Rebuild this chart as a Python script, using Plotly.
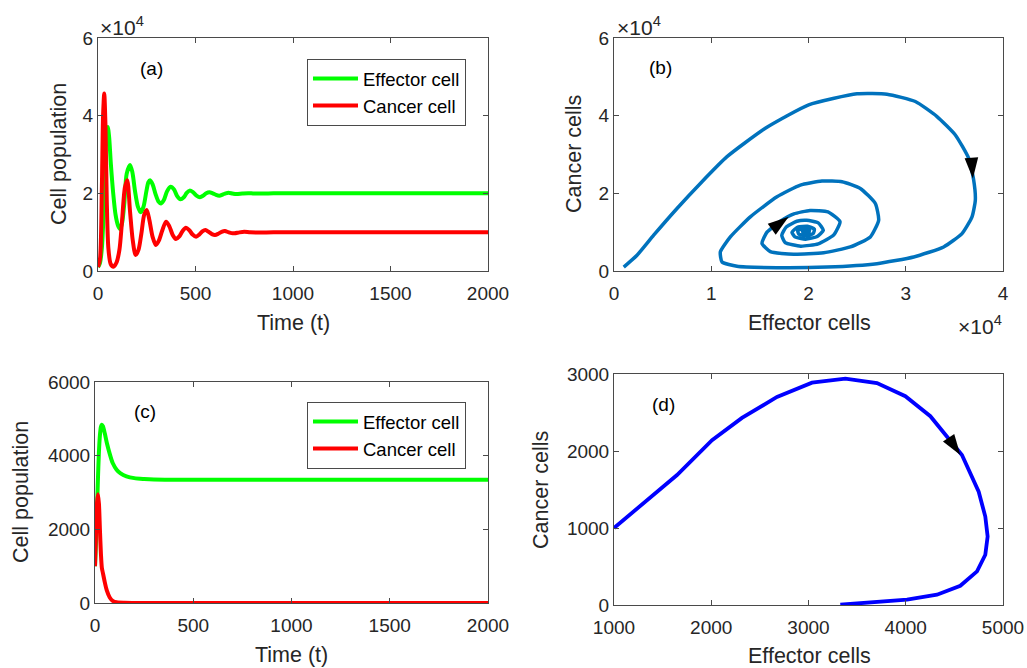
import plotly.graph_objects as go

W, H = 1027, 668
FONT = "Liberation Sans, Arial, Helvetica, sans-serif"
TXT = "#262626"
AXC = "#4a4a4a"

# ---- (a) oscillatory case: time series ----
t_a_eff = [0, 10, 20, 27, 32, 38, 44, 50, 57, 66, 78, 90, 102, 113, 124, 135, 147, 164, 176, 190, 205, 219,
           233, 248, 258, 267, 280, 295, 310, 323, 337, 354, 372, 390, 406, 423, 440, 455, 470, 487, 505,
           523, 540, 555, 571, 588, 605, 622, 640, 655, 669, 690, 710, 740, 770, 800, 850, 900, 1000, 1500, 2000]
eff_a = [1000, 2000, 6000, 13000, 22000, 31000, 35500, 37100, 34500, 27500, 20000, 14500, 11800, 10800, 12500,
         17500, 25000, 27300, 25500, 20500, 16500, 15100, 16500, 20500, 22800, 23400, 22300, 19800, 17900,
         17400, 18200, 20500, 21700, 21000, 19300, 18460, 19000, 20100, 20700, 20300, 19400, 19000, 19400,
         20000, 20260, 20000, 19600, 19400, 19700, 20000, 20150, 19950, 19800, 19950, 20050, 19950, 19950,
         20000, 20000, 20000, 20000]

t_a_can = [0, 10, 20, 26, 32, 38, 45, 53, 65, 79, 95, 110, 122, 138, 150, 164, 178, 193, 208, 222, 237, 250,
           264, 280, 297, 312, 330, 349, 366, 383, 400, 417, 434, 451, 468, 485, 503, 520, 535, 551, 567,
           584, 600, 617, 634, 651, 668, 685, 700, 725, 750, 780, 820, 900, 1000, 1500, 2000]
can_a = [1000, 3000, 22000, 40000, 45700, 38000, 18000, 6000, 1800, 1100, 2200, 5500, 12000, 21500, 23400,
         15500, 8000, 4100, 5500, 9500, 14500, 15700, 13000, 8800, 6700, 7800, 10500, 12700, 11500, 9300,
         8240, 8900, 10300, 11150, 10500, 9400, 8830, 9400, 10200, 10560, 10100, 9500, 9270, 9600, 10100,
         10300, 10000, 9750, 9700, 9950, 10100, 9950, 9900, 9980, 10000, 10000, 10000]

# ---- (b) oscillatory case: phase portrait ----
eff_b = [1000, 2365, 4079, 6478, 8877, 11620, 15560, 20017, 24987, 28072, 30986, 33213, 35099, 36470, 36984,
         37155, 36813, 35785, 33899, 30814, 27044, 21902, 16761, 12648, 11106, 10935, 11963, 14019, 16761,
         19160, 21388, 23445, 25330, 26872, 27215, 26358, 24302, 21559, 18474, 16075, 15218, 15732, 17103,
         18500, 20154, 22000, 23239, 22600, 21000, 19200, 17600, 17250, 17700, 18800, 19811, 21000, 21524,
         20900, 19700, 18600, 18300, 18900, 19900, 20600, 20500, 19800, 19000, 18900, 19500, 20100, 20000,
         19500, 19400, 19800, 19800]
can_b = [1000, 4046, 9211, 16097, 22553, 29440, 36757, 42783, 45624, 45538, 43644, 39770, 35036, 29010, 23414,
         18250, 13945, 9641, 6198, 3616, 1894, 1033, 861, 1205, 2324, 4907, 8780, 13945, 19110, 22123, 23156,
         22984, 21262, 17389, 13085, 8780, 6198, 4700, 4300, 5000, 7100, 10000, 12800, 14700, 15600, 15200,
         12695, 9300, 7000, 6400, 7300, 9200, 11300, 12800, 13050, 12400, 10500, 8900, 8200, 8800, 10000,
         11300, 11500, 10800, 9700, 9100, 9500, 10400, 10900, 10500, 9800, 9700, 10200, 10300, 9900]
# direction markers on the trajectory (tip position, heading in degrees)
arrow_b_eff = [36900, 17961]
arrow_b_can = [23800, 13945]
arrow_b_ang = [176, 54]

# ---- (c) stable case: time series ----
t_c_eff = [0, 5, 10, 15, 20, 25, 30, 35, 40, 50, 60, 75, 90, 110, 130, 160, 200, 250, 300, 400, 1000, 2000]
eff_c = [1000, 1650, 2500, 3380, 4100, 4550, 4780, 4840, 4800, 4600, 4350, 4050, 3800, 3620, 3520, 3440,
         3390, 3365, 3350, 3345, 3345, 3345]
t_c_can = [0, 5, 10, 15, 20, 25, 30, 35, 40, 50, 60, 75, 90, 110, 150, 200, 1000, 2000]
can_c = [1000, 1900, 2700, 2950, 2700, 2000, 1350, 950, 820, 560, 340, 150, 60, 20, 5, 2, 0, 0]

# ---- (d) stable case: phase portrait ----
eff_d = [1000, 1305, 1648, 2008, 2316, 2676, 3036, 3379, 3704, 3996, 4253, 4578, 4750, 4818, 4842, 4818,
         4733, 4561, 4321, 4013, 3636, 3327]
can_d = [1000, 1321, 1688, 2141, 2430, 2702, 2888, 2940, 2883, 2711, 2452, 1947, 1472, 1148, 889, 652,
         436, 250, 134, 69, 35, 4]
arrow_d_eff = [4561]
arrow_d_can = [1947]
arrow_d_ang = [146]

# tick values / labels
t_ticks = [0, 500, 1000, 1500, 2000]
t_ticktext = ["0", "500", "1000", "1500", "2000"]
e4_ticks_y = [0, 20000, 40000, 60000]
e4_text_y = ["0", "2", "4", "6"]
e4_ticks_x = [0, 10000, 20000, 30000, 40000]
e4_text_x = ["0", "1", "2", "3", "4"]
c_ticks_y = [0, 2000, 4000, 6000]
d_ticks_x = [1000, 2000, 3000, 4000, 5000]
d_ticks_y = [0, 1000, 2000, 3000]

GREEN, RED = "#00ff00", "#ff0000"
BLUE_B, BLUE_D = "#0072bd", "#0000ff"


def px(x):
    return x / W


def py(y):
    return 1 - y / H


fig = go.Figure()

# (a)
fig.add_trace(go.Scatter(x=t_a_eff, y=eff_a, mode="lines", name="Effector cell",
                         line=dict(color=GREEN, width=4, shape="spline", smoothing=0.8),
                         xaxis="x", yaxis="y", legend="legend"))
fig.add_trace(go.Scatter(x=t_a_can, y=can_a, mode="lines", name="Cancer cell",
                         line=dict(color=RED, width=4, shape="spline", smoothing=0.8),
                         xaxis="x", yaxis="y", legend="legend"))
# (b)
fig.add_trace(go.Scatter(x=eff_b, y=can_b, mode="lines", showlegend=False,
                         line=dict(color=BLUE_B, width=3.5, shape="spline", smoothing=0.5),
                         xaxis="x2", yaxis="y2"))
fig.add_trace(go.Scatter(x=arrow_b_eff, y=arrow_b_can, mode="markers", showlegend=False,
                         marker=dict(symbol="arrow", size=22, angle=arrow_b_ang, color="black",
                                     line=dict(width=0)),
                         xaxis="x2", yaxis="y2"))
# (c)
fig.add_trace(go.Scatter(x=t_c_eff, y=eff_c, mode="lines", name="Effector cell",
                         line=dict(color=GREEN, width=4, shape="spline", smoothing=0.8),
                         xaxis="x3", yaxis="y3", legend="legend2"))
fig.add_trace(go.Scatter(x=t_c_can, y=can_c, mode="lines", name="Cancer cell",
                         line=dict(color=RED, width=4, shape="spline", smoothing=0.8),
                         xaxis="x3", yaxis="y3", legend="legend2"))
# (d)
fig.add_trace(go.Scatter(x=eff_d, y=can_d, mode="lines", showlegend=False,
                         line=dict(color=BLUE_D, width=3.8), xaxis="x4", yaxis="y4"))
fig.add_trace(go.Scatter(x=arrow_d_eff, y=arrow_d_can, mode="markers", showlegend=False,
                         marker=dict(symbol="arrow", size=22, angle=arrow_d_ang, color="black",
                                     line=dict(width=0)),
                         xaxis="x4", yaxis="y4"))


def axis(domain, rng, vals, text, anchor, standoff=0):
    return dict(domain=domain, range=rng, tickvals=vals, ticktext=text, anchor=anchor,
                showline=True, linecolor=AXC, linewidth=1, mirror="ticks",
                ticks="inside", ticklen=5, tickcolor=AXC, tickwidth=1,
                showgrid=False, zeroline=False, fixedrange=True, automargin=False,
                ticklabelstandoff=standoff,
                tickfont=dict(family=FONT, size=19, color=TXT))


xa_dom = [px(98), px(488)]
xb_dom = [px(614), px(1003)]
xc_dom = [px(95), px(488)]
ya_dom = [py(271), py(38)]
yc_dom = [py(603), py(382)]
yd_dom = [py(605), py(374)]

fig.update_layout(
    template="none",
    width=W, height=H, margin=dict(l=0, r=0, t=0, b=0, pad=0), autosize=False,
    paper_bgcolor="white", plot_bgcolor="white",
    font=dict(family=FONT, color=TXT),
    xaxis=axis(xa_dom, [0, 2000], t_ticks, t_ticktext, "y", 5),
    yaxis=axis(ya_dom, [0, 60000], e4_ticks_y, e4_text_y, "x"),
    xaxis2=axis(xb_dom, [0, 40000], e4_ticks_x, e4_text_x, "y2", 5),
    yaxis2=axis(ya_dom, [0, 60000], e4_ticks_y, e4_text_y, "x2"),
    xaxis3=axis(xc_dom, [0, 2000], t_ticks, t_ticktext, "y3", 5),
    yaxis3=axis(yc_dom, [0, 6000], c_ticks_y, [str(v) for v in c_ticks_y], "x3"),
    xaxis4=axis(xb_dom, [1000, 5000], d_ticks_x, [str(v) for v in d_ticks_x], "y4", 5),
    yaxis4=axis(yd_dom, [0, 3000], d_ticks_y, [str(v) for v in d_ticks_y], "x4"),
    legend=dict(x=px(307), y=py(59), xanchor="left", yanchor="top", bgcolor="white",
                bordercolor=AXC, borderwidth=1, itemwidth=45,
                font=dict(family=FONT, size=18.5, color="black")),
    legend2=dict(x=px(307), y=py(402), xanchor="left", yanchor="top", bgcolor="white",
                 bordercolor=AXC, borderwidth=1, itemwidth=45,
                 font=dict(family=FONT, size=18.5, color="black")),
)

ann = []


def label(text, x, y, size=21.5, angle=0, xanchor="center", yanchor="middle", color=TXT):
    ann.append(dict(text=text, x=px(x), y=py(y), xref="paper", yref="paper", showarrow=False,
                    textangle=angle, xanchor=xanchor, yanchor=yanchor,
                    font=dict(family=FONT, size=size, color=color)))


# axis titles
label("Cell population", 59, 154, angle=-90)
label("Time (t)", 293, 323)
label("Cancer cells", 574, 154, angle=-90)
label("Effector cells", 809, 323)
label("Cell population", 21, 492, angle=-90)
label("Time (t)", 291, 655)
label("Cancer cells", 541, 490, angle=-90)
label("Effector cells", 809, 656)
# panel tags
label("(a)", 151, 68, size=19, color="black")
label("(b)", 660, 67, size=19, color="black")
label("(c)", 145, 411, size=19, color="black")
label("(d)", 663, 404, size=19, color="black")
# exponent labels
label("×10<sup>4</sup>", 98, 41, size=21, xanchor="left", yanchor="bottom")
label("×10<sup>4</sup>", 615, 41, size=21, xanchor="left", yanchor="bottom")
label("×10<sup>4</sup>", 1004, 310, size=21, xanchor="right", yanchor="top")

fig.update_layout(annotations=ann)
fig.write_html("out.html")
